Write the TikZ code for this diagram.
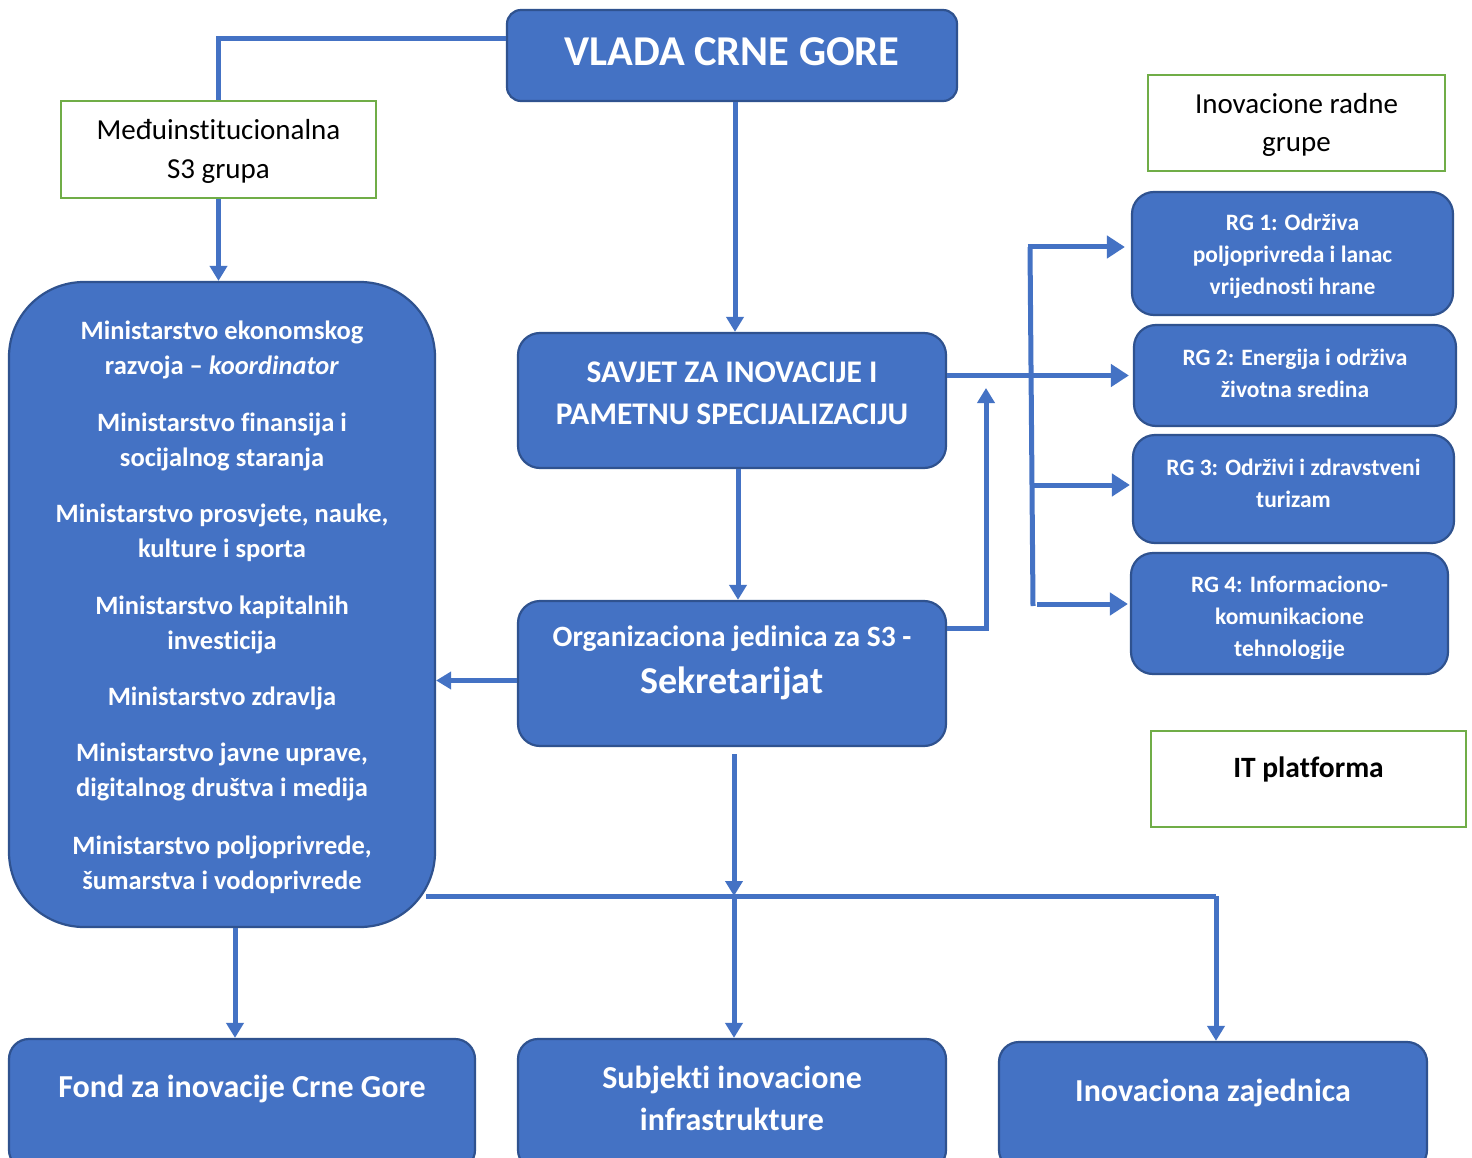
\documentclass[tikz,border=0pt]{standalone}
\usepackage{fontspec}
\setmainfont{Carlito}[Ligatures={NoCommon}]
\usetikzlibrary{arrows.meta}
\definecolor{bfill}{HTML}{4472C4}
\definecolor{bdraw}{HTML}{2F528F}
\definecolor{gdraw}{HTML}{70AD47}
\definecolor{lcol}{HTML}{4472C4}
\tikzset{
  bluebox/.style={draw=bdraw, fill=bfill, line width=2.2pt, rounded corners=#1, inner sep=0pt},
  bluebox/.default=20pt,
  greenbox/.style={draw=gdraw, line width=2.5pt, fill=white, inner sep=0pt},
  wtext/.style={text=white, font=\bfseries, align=center, inner sep=0pt},
  ktext/.style={text=black, align=center, inner sep=0pt},
  conn/.style={draw=lcol, line width=5pt},
  arr/.style={conn, -{Triangle[width=17pt,length=15pt]}},
  bigarr/.style={conn, -{Triangle[width=22pt,length=18pt]}},
}
\begin{document}
\begin{tikzpicture}[x=1pt,y=-1pt]
\clip (0,0) rectangle (1472,1158);
\fill[white] (0,0) rectangle (1472,1158);

% ---------- boxes ----------
\node[bluebox=14pt, minimum width=450pt, minimum height=91pt] (vlada) at (732,55.5) {};
\node[greenbox, minimum width=315pt, minimum height=97pt] (grp) at (218.5,149.5) {};
\node[bluebox=75pt, minimum width=426pt, minimum height=645pt] (big) at (222,604.5) {};
\node[bluebox=22pt, minimum width=428pt, minimum height=135pt] (savjet) at (732,400.5) {};
\node[bluebox=22pt, minimum width=428pt, minimum height=145pt] (org) at (732,673.5) {};
\node[greenbox, minimum width=297pt, minimum height=96pt] (irg) at (1296.5,123) {};
\node[bluebox=22pt, minimum width=321pt, minimum height=123pt] (rg1) at (1292.5,253.5) {};
\node[bluebox=22pt, minimum width=322pt, minimum height=101pt] (rg2) at (1295,375.5) {};
\node[bluebox=22pt, minimum width=321pt, minimum height=108pt] (rg3) at (1293.5,489) {};
\node[bluebox=22pt, minimum width=317pt, minimum height=121pt] (rg4) at (1289.5,613.5) {};
\node[greenbox, minimum width=315pt, minimum height=96pt] (itp) at (1308.5,779) {};
\node[bluebox=20pt, minimum width=466pt, minimum height=131pt] (fond) at (242,1104.5) {};
\node[bluebox=20pt, minimum width=428pt, minimum height=131pt] (subj) at (732,1104.5) {};
\node[bluebox=20pt, minimum width=428pt, minimum height=128pt] (inov) at (1213,1106) {};

% ---------- texts ----------
\node[wtext, font=\fontsize{42.5}{46}\selectfont\bfseries] (tvlada) at (732,52) {VLADA CRNE GORE};
\node[ktext, font=\fontsize{29}{39}\selectfont] (tgrp) at (218.5,151) {Međuinstitucionalna\\S3 grupa};
\node[ktext, font=\fontsize{29}{38}\selectfont] (tirg) at (1296.5,125) {Inovacione radne\\grupe};
\node[ktext, font=\fontsize{29.5}{32}\selectfont\bfseries] (titp) at (1308.5,769) {IT platforma};

\begin{scope}[every node/.style={wtext, font=\fontsize{26.5}{35}\selectfont\bfseries}]
\node (m1) at (222,349.5) {Ministarstvo ekonomskog\\razvoja -- \textit{koordinator}};
\node (m2) at (222,441.5) {Ministarstvo finansija i\\socijalnog staranja};
\node (m3) at (222,532.5) {Ministarstvo prosvjete, nauke,\\kulture i sporta};
\node (m4) at (222,624.5) {Ministarstvo kapitalnih\\investicija};
\node (m5) at (222,698) {Ministarstvo zdravlja};
\node (m6) at (222,772) {Ministarstvo javne uprave,\\digitalnog društva i medija};
\node (m7) at (222,864.5) {Ministarstvo poljoprivrede,\\šumarstva i vodoprivrede};
\end{scope}

\node[wtext, font=\fontsize{31.5}{42}\selectfont\bfseries] (tsavjet) at (732,393) {SAVJET ZA INOVACIJE I\\PAMETNU SPECIJALIZACIJU};
\node[wtext, font=\fontsize{29.5}{32}\selectfont\bfseries] (torg1) at (732,639) {Organizaciona jedinica za S3 -};
\node[wtext, font=\fontsize{38}{42}\selectfont\bfseries] (torg2) at (732,683) {Sekretarijat};

\begin{scope}[every node/.style={wtext, font=\fontsize{23.5}{32}\selectfont\bfseries}]
\node (trg1) at (1292.5,256) {RG 1: Održiva\\poljoprivreda i lanac\\vrijednosti hrane};
\node (trg2) at (1295,373) {RG 2: Energija i održiva\\životna sredina};
\node (trg3) at (1293.5,483) {RG 3: Održivi i zdravstveni\\turizam};
\end{scope}
\begin{scope}
\clip (1135,560) rectangle (1445,658);
\node[wtext, font=\fontsize{23.5}{32}\selectfont\bfseries] (trg4) at (1289.5,618) {RG 4: Informaciono-\\komunikacione\\tehnologije};
\end{scope}

\node[wtext, font=\fontsize{32}{42}\selectfont\bfseries] (tfond) at (242,1089) {Fond za inovacije Crne Gore};
\node[wtext, font=\fontsize{32}{42}\selectfont\bfseries] (tsubj) at (732,1098) {Subjekti inovacione\\infrastrukture};
\node[wtext, font=\fontsize{32}{42}\selectfont\bfseries] (tinov) at (1213,1093) {Inovaciona zajednica};

% ---------- connectors ----------
\coordinate (fb) at (986,388);
\coordinate (bt) at (1030,247);
\coordinate (bb) at (1033,606);
\coordinate (jn) at (734,896);

\draw[conn] ([yshift=16.5pt]vlada.west) -| (grp.north);
\draw[arr] (grp.south) -- (grp.south |- big.north);
\draw[arr] ([xshift=3pt]vlada.south) -- ([xshift=3pt]savjet.north);
\draw[arr] ([xshift=6pt]savjet.south) -- ([xshift=6pt]org.north);
\draw[arr] ([yshift=-7pt]org.west) -- ([yshift=-7pt]org.west -| big.east);
\draw[arr] ([yshift=45.5pt]org.east) -| (fb);
\draw[bigarr] (savjet.east |- rg2.west) -- ([xshift=-4pt]rg2.west);
\draw[conn] (bt) -- (bb);
\draw[bigarr] ([xshift=-2.5pt]bt) -- ([xshift=-6pt]bt -| rg1.west);
\draw[bigarr] (1032,485) -- ([xshift=-2pt]rg3.west |- 0,485);
\draw[bigarr] (1037,604) -- ([xshift=-2pt]rg4.west |- 0,604);
\draw[arr] ([xshift=2pt,yshift=-7pt]org.south) -- (jn);
\draw[arr] (jn) -- (jn |- subj.north);
\draw[conn] ([xshift=-10pt]big.east |- jn) -- ([xshift=3pt]jn -| inov.north);
\draw[arr] ([xshift=3pt]jn -| inov.north) -- ([xshift=3pt]inov.north);
\draw[arr] ([xshift=-7pt]fond.north |- big.south) -- ([xshift=-7pt]fond.north);
\end{tikzpicture}
\end{document}
